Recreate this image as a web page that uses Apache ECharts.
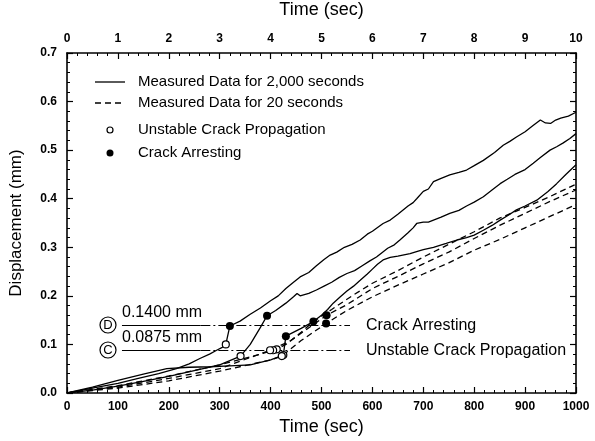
<!DOCTYPE html>
<html><head><meta charset="utf-8">
<script src="https://cdn.jsdelivr.net/npm/echarts@6/dist/echarts.min.js"></script>
<style>html,body{margin:0;padding:0;background:#fff}#c{width:595px;height:441px}</style>
</head><body><div id="c"></div>
<script>
// ---- data (time in sec, displacement in mm) ----
const solid1 = [[0,0],[30,0.006],[60,0.012],[100,0.02],[140,0.03],[180,0.04],[215,0.05],[240,0.06],[261,0.071],[280,0.08],[294,0.088],[305,0.094],[312,0.1],[320,0.138],[340,0.148],[360,0.162],[380,0.175],[400,0.19],[415,0.2],[430,0.215],[445,0.228],[458,0.239],[475,0.248],[490,0.262],[505,0.275],[517,0.284],[530,0.29],[545,0.3],[560,0.306],[576,0.315],[590,0.327],[600,0.333],[621,0.349],[635,0.356],[650,0.368],[670,0.385],[680,0.392],[687,0.4],[700,0.415],[710,0.42],[720,0.435],[735,0.442],[752,0.449],[770,0.454],[785,0.459],[800,0.468],[818,0.479],[840,0.495],[857,0.51],[870,0.518],[883,0.527],[900,0.538],[915,0.55],[930,0.562],[940,0.556],[950,0.555],[960,0.562],[970,0.566],[985,0.57],[1000,0.578]];
const solid2 = [[0,0],[50,0.006],[100,0.014],[150,0.024],[200,0.034],[250,0.046],[300,0.058],[341,0.076],[360,0.1],[380,0.135],[393,0.159],[410,0.17],[430,0.185],[445,0.198],[452,0.205],[458,0.2],[475,0.205],[490,0.212],[505,0.22],[520,0.228],[535,0.238],[550,0.246],[565,0.252],[580,0.262],[595,0.272],[608,0.28],[620,0.29],[630,0.298],[643,0.305],[654,0.315],[670,0.33],[680,0.34],[687,0.349],[700,0.352],[710,0.352],[720,0.356],[735,0.362],[752,0.37],[770,0.376],[785,0.385],[800,0.393],[818,0.404],[835,0.418],[851,0.431],[865,0.44],[880,0.45],[900,0.46],[916,0.473],[930,0.485],[949,0.5],[962,0.507],[975,0.515],[988,0.524],[1000,0.534]];
const solid3 = [[0,0],[50,0.012],[100,0.026],[150,0.039],[196,0.05],[240,0.053],[281,0.054],[320,0.056],[360,0.058],[400,0.068],[425,0.078],[430,0.117],[460,0.133],[484,0.147],[500,0.16],[512,0.172],[523,0.185],[537,0.198],[550,0.21],[563,0.22],[576,0.232],[590,0.245],[600,0.255],[610,0.265],[621,0.274],[635,0.279],[650,0.282],[674,0.287],[690,0.292],[700,0.295],[720,0.3],[745,0.308],[766,0.315],[785,0.32],[800,0.325],[818,0.335],[835,0.345],[851,0.356],[867,0.366],[883,0.377],[900,0.385],[923,0.397],[945,0.415],[962,0.431],[980,0.45],[1000,0.47]];
const dashed1 = [[0,0],[100,0.015],[200,0.035],[300,0.058],[380,0.08],[412,0.09],[430,0.1],[460,0.125],[484,0.147],[520,0.172],[560,0.2],[600,0.226],[650,0.252],[700,0.28],[750,0.306],[800,0.332],[850,0.36],[900,0.382],[950,0.405],[1000,0.43]];
const dashed2 = [[0,0],[100,0.012],[200,0.03],[300,0.05],[399,0.088],[440,0.108],[480,0.138],[510,0.16],[550,0.182],[600,0.215],[650,0.24],[700,0.266],[750,0.29],[800,0.318],[850,0.345],[900,0.37],[950,0.395],[1000,0.418]];
const dashed3 = [[0,0],[100,0.01],[200,0.025],[300,0.045],[400,0.068],[422,0.076],[460,0.108],[509,0.143],[550,0.17],[600,0.198],[650,0.222],[700,0.245],[750,0.268],[800,0.294],[850,0.316],[900,0.34],[950,0.364],[1000,0.388]];
const unstablePts = [[312,0.1],[341,0.076],[425,0.078],[412,0.09],[405,0.088],[399,0.088],[422,0.076]];
const arrestPts = [[320,0.138],[393,0.159],[430,0.117],[484,0.147],[510,0.16],[509,0.143]];
const levelD = 0.14, levelC = 0.0875;
const underlineRange = [108, 262];
const dashDotRange = [262, 556];
const bottomTicks = [0,100,200,300,400,500,600,700,800,900,1000];
const topTicks = [0,1,2,3,4,5,6,7,8,9,10];
const legendNames = ['Measured Data for 2,000 seconds','Measured Data for 20 seconds','Unstable Crack Propagation','Crack Arresting'];

const FONT = '"Liberation Sans", Arial, sans-serif';
const chart = echarts.init(document.getElementById('c'), null, {renderer:'canvas'});
const axisCommon = {
  axisLine:{show:true,onZero:false,lineStyle:{color:'#000',width:1.6}},
  axisTick:{show:true,inside:true,length:6,lineStyle:{color:'#000',width:1.2}},
  minorTick:{show:true,splitNumber:5,length:3,lineStyle:{color:'#000',width:1}},
  splitLine:{show:false}
};
const lineS = (name, data, dashed) => ({
  type:'line', name, data, symbol:'none', smooth:false, animation:false,
  lineStyle:{color:'#000', width:1.3, type: dashed ? [6,4] : 'solid'},
  itemStyle:{color:'#000'}, z:3
});
const legendRows = [82, 103, 130, 153];
const legendGraphics = [];
legendRows.forEach((y, i) => {
  if (i === 0) legendGraphics.push({type:'line', shape:{x1:95,y1:y,x2:125,y2:y}, style:{stroke:'#000', lineWidth:1.3}});
  if (i === 1) legendGraphics.push({type:'line', shape:{x1:95,y1:y,x2:125,y2:y}, style:{stroke:'#000', lineWidth:1.3, lineDash:[6,4]}});
  if (i === 2) legendGraphics.push({type:'circle', shape:{cx:110,cy:y,r:3}, style:{fill:'#fff', stroke:'#000', lineWidth:1.2}});
  if (i === 3) legendGraphics.push({type:'circle', shape:{cx:110,cy:y,r:3.5}, style:{fill:'#000'}});
  legendGraphics.push({type:'text', x:138, y:y, style:{text:legendNames[i], fontFamily:FONT, fontSize:15, fill:'#000', align:'left', verticalAlign:'middle'}});
});
chart.setOption({
  animation:false,
  backgroundColor:'#fff',
  textStyle:{fontFamily:FONT},
  grid:{left:67, right:19, top:53, bottom:48, containLabel:false, outerBoundsMode:'none'},
  xAxis:[
    Object.assign({type:'value', position:'bottom', min:0, max:1000, interval:100,
      name:'Time (sec)', nameLocation:'middle', nameGap:24,
      nameTextStyle:{fontFamily:FONT, fontSize:18, color:'#000'},
      axisLabel:{color:'#000', fontFamily:FONT, fontSize:12, fontWeight:'bold', margin:8,
        formatter:v=>bottomTicks.includes(v)?String(v):''}}, axisCommon),
    Object.assign({type:'value', position:'top', min:0, max:10, interval:1,
      name:'Time (sec)', nameLocation:'middle', nameGap:34,
      nameTextStyle:{fontFamily:FONT, fontSize:18, color:'#000'},
      axisLabel:{color:'#000', fontFamily:FONT, fontSize:12, fontWeight:'bold', margin:8,
        formatter:v=>topTicks.includes(v)?String(v):''}}, axisCommon)
  ],
  yAxis:[
    Object.assign({type:'value', position:'left', min:0, max:0.7, interval:0.1,
      name:'Displacement (mm)', nameLocation:'middle', nameGap:42, nameRotate:90,
      nameTextStyle:{fontFamily:FONT, fontSize:17, color:'#000'},
      axisLabel:{color:'#000', fontFamily:FONT, fontSize:12, fontWeight:'bold', margin:10,
        formatter:v=>v.toFixed(1)}}, axisCommon),
    Object.assign({type:'value', position:'right', min:0, max:0.7, interval:0.1,
      axisLabel:{show:false}}, axisCommon)
  ],
  series:[
    lineS(legendNames[0], solid1, false),
    lineS(legendNames[0], solid2, false),
    lineS(legendNames[0], solid3, false),
    lineS(legendNames[1], dashed1, true),
    lineS(legendNames[1], dashed2, true),
    lineS(legendNames[1], dashed3, true),
    {type:'scatter', name:legendNames[2], data:unstablePts, symbol:'circle', symbolSize:7,
      itemStyle:{color:'#fff', borderColor:'#000', borderWidth:1.2, opacity:1}, z:6},
    {type:'scatter', name:legendNames[3], data:arrestPts, symbol:'circle', symbolSize:8,
      itemStyle:{color:'#000', opacity:1}, z:6},
    {type:'line', name:'levels', data:[], silent:true, z:2,
      markLine:{symbol:'none', silent:true, label:{show:false},
        lineStyle:{color:'#000', width:1, type:[10,3,2,3]},
        data:[
          [{coord:[underlineRange[0],levelD], lineStyle:{type:'solid',color:'#000',width:1.1}},{coord:[underlineRange[1],levelD]}],
          [{coord:[dashDotRange[0],levelD]},{coord:[dashDotRange[1],levelD]}],
          [{coord:[underlineRange[0],levelC], lineStyle:{type:'solid',color:'#000',width:1.1}},{coord:[underlineRange[1],levelC]}],
          [{coord:[dashDotRange[0],levelC]},{coord:[dashDotRange[1],levelC]}]
        ]}}
  ],
  graphic: legendGraphics.concat([
    {type:'circle', shape:{cx:108, cy:325, r:8}, style:{fill:'#fff', stroke:'#000', lineWidth:1.2}},
    {type:'text', x:108, y:325, style:{text:'D', fontFamily:FONT, fontSize:13, fill:'#000', align:'center', verticalAlign:'middle'}},
    {type:'circle', shape:{cx:108, cy:350, r:8}, style:{fill:'#fff', stroke:'#000', lineWidth:1.2}},
    {type:'text', x:108, y:350, style:{text:'C', fontFamily:FONT, fontSize:13, fill:'#000', align:'center', verticalAlign:'middle'}},
    {type:'text', x:122, y:321, style:{text:'0.1400 mm', fontFamily:FONT, fontSize:16, fill:'#000', align:'left', verticalAlign:'bottom'}},
    {type:'text', x:122, y:346, style:{text:'0.0875 mm', fontFamily:FONT, fontSize:16, fill:'#000', align:'left', verticalAlign:'bottom'}},
    {type:'text', x:366, y:326, style:{text:'Crack Arresting', fontFamily:FONT, fontSize:16, fill:'#000', align:'left', verticalAlign:'middle'}},
    {type:'text', x:366, y:351, style:{text:'Unstable Crack Propagation', fontFamily:FONT, fontSize:16, fill:'#000', align:'left', verticalAlign:'middle'}}
  ])
});
</script></body></html>
